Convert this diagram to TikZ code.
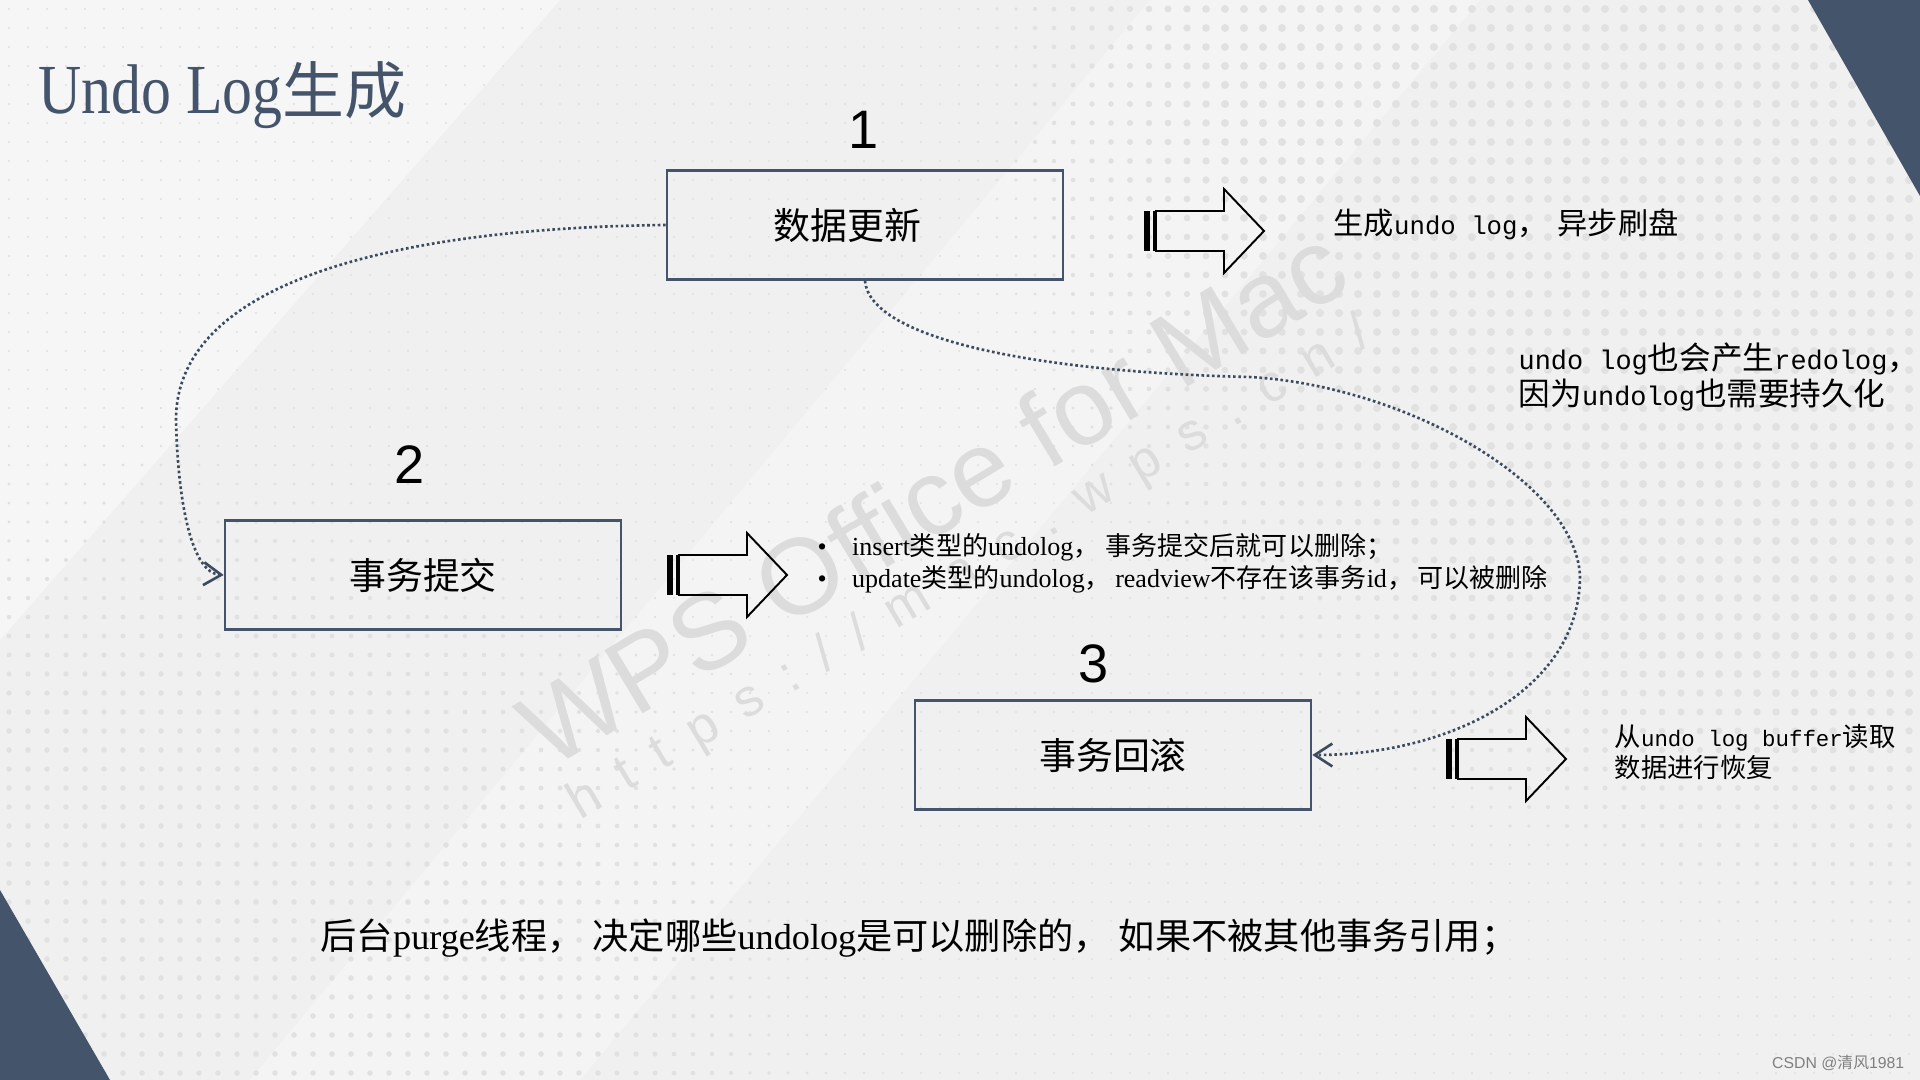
\documentclass[tikz,border=0pt]{standalone}
\usepackage{fontspec}
\setmainfont{Liberation Serif}
\newfontfamily\zhfont{Noto Sans CJK SC}
\newfontfamily\monofont[Scale=0.85]{Liberation Mono}
\newfontfamily\digitfont{Liberation Sans}
\newfontfamily\titlefont[FakeStretch=0.85]{Liberation Serif}
\usetikzlibrary{arrows.meta}
\definecolor{slate}{HTML}{44546A}
\definecolor{paper}{HTML}{F0F0F0}
\definecolor{dotgray}{HTML}{E1E1E1}
\definecolor{markgray}{HTML}{DCDCDC}
\newcommand{\zh}[1]{{\zhfont #1}}
\newcommand{\mn}[1]{{\monofont #1}}

\begin{document}
\begin{tikzpicture}[x=0.01cm, y=-0.01cm,
  stepbox/.style={draw=slate, line width=0.7pt, minimum width=3.96cm, minimum height=1.09cm,
    inner sep=0pt, font=\fontsize{10.5}{12}\selectfont\zhfont},
  stepnum/.style={inner sep=0pt, font=\fontsize{15.4}{18}\selectfont\digitfont},
  flow/.style={slate!90!black, line width=0.75pt, dash pattern=on 0.75pt off 0.75pt,
    -{Straight Barb[length=5pt, width=6.5pt]}},
  blockarrow/.style={draw=black, line width=0.55pt, line join=miter},
  note/.style={anchor=west, inner sep=0pt, align=left}]
\useasboundingbox (0,0) rectangle (1920,1080);
\clip (0,0) rectangle (1920,1080);

% background
\fill[paper] (0,0) rectangle (1920,1080);
\fill[white, opacity=0.45] (0,0) -- (560,0) -- (0,640) -- cycle;
\fill[white, opacity=0.3] (1150,0) -- (1480,0) -- (580,1080) -- (250,1080) -- cycle;
\foreach \i in {0,...,100}{
  \foreach \j in {0,...,56}{
    \pgfmathsetmacro{\rad}{max(1.1, 4*min(1,max(0,(11-veclen((1911-19*\i)/100,(19*\j+9)/100))/4)), 2.8*min(1,max(0,(9-veclen((19*\i-191)/100,(1071-19*\j)/100))/5)))}
    \fill[dotgray] (19*\i+9,19*\j+9) circle (\rad);
  }
}
\fill[slate] (1808,0) -- (1920,0) -- (1920,196) -- cycle;
\fill[slate] (0,890) -- (110,1080) -- (0,1080) -- cycle;

% watermarks
\node[rotate=31, inner sep=0pt, text=markgray, font=\fontsize{30.5}{32}\selectfont\digitfont] (wpsmark) at (932,496) {WPS Office for Mac};
\node[rotate=31, inner sep=0pt, text=markgray, font={\fontsize{15}{16}\selectfont\digitfont\addfontfeature{LetterSpace=50}}] (wpsurl) at (970,570) {https://mac.wps.cn/};
\node[anchor=east, inner sep=0pt, text=black!50, font=\fontsize{4.5}{5}\selectfont\digitfont] (csdn) at (1905,1063) {CSDN @\zh{清风}1981};

% title
\node[anchor=base west, inner sep=0pt, text=slate, font=\fontsize{20}{24}\selectfont] (title) at (38,114)
  {{\titlefont Undo Log}{\zhfont\fontsize{17.6}{20}\selectfont 生成}};

% steps
\node[stepnum] (num1) at (864,130) {1};
\node[stepbox] (update) at (865,225) {数据更新\rule{10pt}{0pt}};
\node[stepnum] (num2) at (410,465) {2};
\node[stepbox] (commit) at (423,575) {事务提交};
\node[stepnum] (num3) at (1094,664) {3};
\node[stepbox] (rollback) at (1113,755) {事务回滚};

% striped block arrows
\foreach \ax/\ay in {1144/231, 667/575, 1446/759}{
  \fill (\ax,\ay-20) rectangle (\ax+6,\ay+20);
  \fill (\ax+8.5,\ay-20) rectangle (\ax+12,\ay+20);
  \draw[blockarrow] (\ax+12,\ay-20) -- (\ax+80,\ay-20) -- (\ax+80,\ay-42) -- (\ax+120,\ay)
    -- (\ax+80,\ay+42) -- (\ax+80,\ay+20) -- (\ax+12,\ay+20) -- cycle;
}

% notes
\node[note, font=\fontsize{8.6}{10}\selectfont\zhfont] (asyncnote) at (1333,224) {生成\mn{undo log}，\hspace{2.8pt}异步刷盘};
\node[note, font=\fontsize{9}{10.5}\selectfont\zhfont] (redonote) at (1518,377)
  {\mn{undo log}也会产生\mn{redolog}，\\因为\mn{undolog}也需要持久化};
\node[note, font=\fontsize{7.4}{9}\selectfont] (deletenote) at (817,563)
  {\makebox[9.8pt][l]{\textbullet}insert\zh{类型的}undolog\zh{，}\ \zh{事务提交后就可以删除；}\\
   \makebox[9.8pt][l]{\textbullet}update\zh{类型的}undolog\zh{，}\,readview\zh{不存在该事务}id\zh{，}\,\zh{可以被删除}};
\node[note, font=\fontsize{7.5}{9}\selectfont\zhfont] (restorenote) at (1614,752)
  {从\mn{undo log buffer}读取\\数据进行恢复};
\node[note, font=\fontsize{10.3}{12}\selectfont] (purgenote) at (320,938)
  {\zh{后台}purge\zh{线程，}\ \zh{决定哪些}undolog\zh{是可以删除的，}\ \zh{如果不被其他事务引用；}};

% flows
\draw[flow] (update.west) .. controls (400,228) and (176,280) .. (176,420)
  .. controls (178,505) and (192,573) .. (commit.west);
\draw[flow] (update.south) .. controls (870,340) and (1040,372) .. (1249,377)
  .. controls (1400,385) and (1575,480) .. (1580,576)
  .. controls (1580,690) and (1450,755) .. (rollback.east);
\end{tikzpicture}
\end{document}
